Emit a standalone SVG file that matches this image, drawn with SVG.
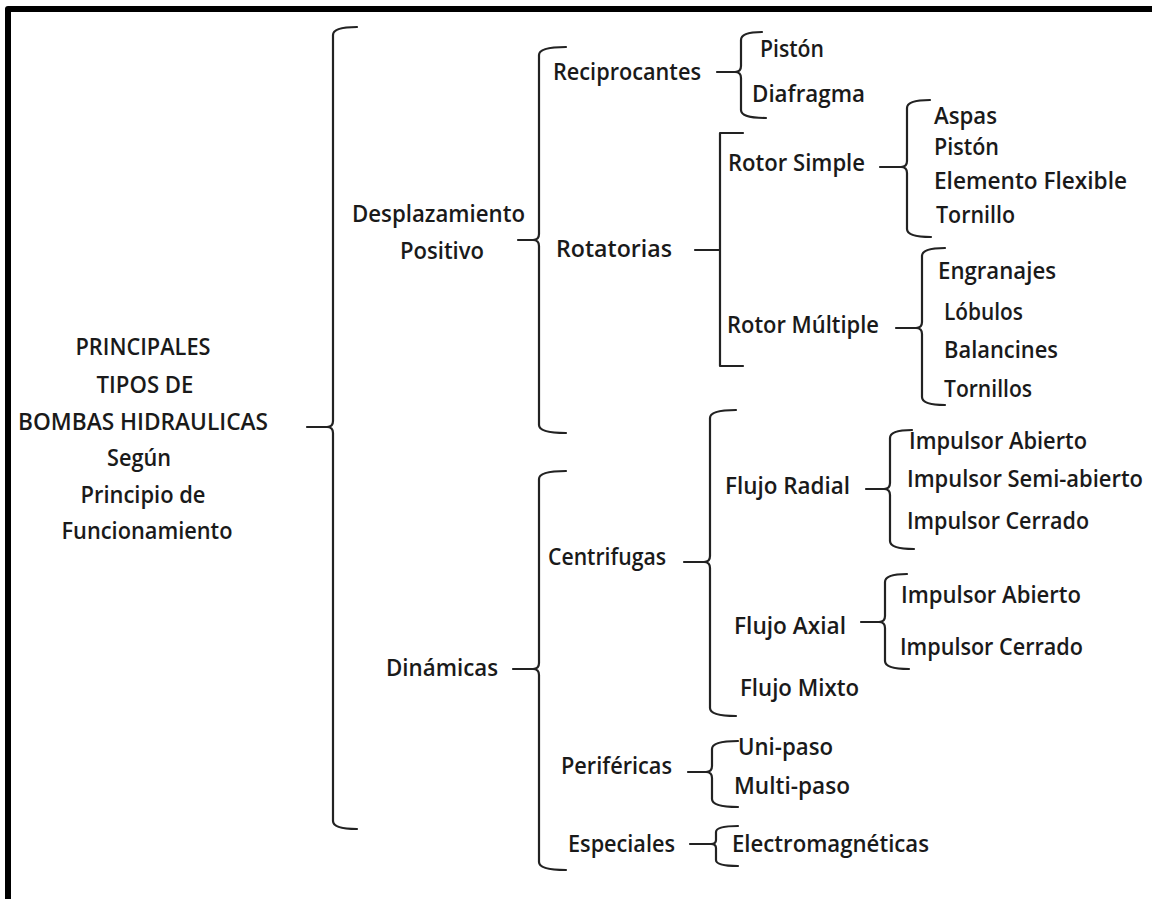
<svg xmlns="http://www.w3.org/2000/svg" width="1152" height="899" viewBox="0 0 1152 899">
<style>
.t{font-family:"Open Sans","Liberation Sans",sans-serif;font-size:24px;font-weight:600;fill:#1a1a1a}
.c{text-anchor:middle}
.b{fill:none;stroke:#222;stroke-width:2.2;stroke-linecap:round;stroke-linejoin:round}
.frame{fill:none;stroke:#000;stroke-width:6;stroke-linejoin:round}
</style>
<rect width="1152" height="899" fill="#fff"/>
<path class="frame" d="M8,899 V9 H1152"/>
<g id="connectors">
<path class="b" d="M357,27 Q333,27 333,35 V421 Q333,427 327,427 H307 M327,427 Q333,427 333,433 V821 Q333,829 357,829"/>
<path class="b" d="M566,47 Q539,47 539,55 V234 Q539,240 533,240 H518 M533,240 Q539,240 539,246 V425 Q539,433 566,433"/>
<path class="b" d="M566,471 Q539,471 539,479 V663 Q539,669 533,669 H513 M533,669 Q539,669 539,675 V862 Q539,870 566,870"/>
<path class="b" d="M762,32 Q741,32 741,40 V66 Q741,72 735,72 H717 M735,72 Q741,72 741,78 V110 Q741,118 766,118"/>
<path class="b" d="M743,133 H720 V366 H743 M695,250 H720"/>
<path class="b" d="M930,100 Q907,100 907,108 V161 Q907,167 901,167 H880 M901,167 Q907,167 907,173 V229 Q907,237 931,237"/>
<path class="b" d="M945,248 Q922,248 922,256 V322 Q922,328 916,328 H896 M916,328 Q922,328 922,334 V397 Q922,405 945,405"/>
<path class="b" d="M736,410 Q710,410 710,418 V556 Q710,562 704,562 H684 M704,562 Q710,562 710,568 V708 Q710,716 736,716"/>
<path class="b" d="M912,430 Q890,430 890,438 V483 Q890,489 884,489 H866 M884,489 Q890,489 890,495 V541 Q890,549 914,549"/>
<path class="b" d="M907,574 Q885,574 885,582 V616 Q885,622 879,622 H861 M879,622 Q885,622 885,628 V661 Q885,669 909,669"/>
<path class="b" d="M738,741 Q712,741 712,749 V766 Q712,772 706,772 H688 M706,772 Q712,772 712,778 V799 Q712,807 738,807"/>
<path class="b" d="M738,826 Q716,826 716,832 V840 Q716,844 711,844 H690 M711,844 Q716,844 716,848 V860 Q716,866 738,866"/>
</g>
<g id="root">
<text class="t c" x="143" y="355" textLength="135" lengthAdjust="spacingAndGlyphs">PRINCIPALES</text>
<text class="t c" x="145" y="393" textLength="97" lengthAdjust="spacingAndGlyphs">TIPOS DE</text>
<text class="t c" x="143" y="430" textLength="250" lengthAdjust="spacingAndGlyphs">BOMBAS HIDRAULICAS</text>
<text class="t c" x="139" y="466" textLength="64" lengthAdjust="spacingAndGlyphs">Según</text>
<text class="t c" x="143" y="503" textLength="125" lengthAdjust="spacingAndGlyphs">Principio de</text>
<text class="t c" x="147" y="539" textLength="171" lengthAdjust="spacingAndGlyphs">Funcionamiento</text>
</g>
<g id="desplazamiento">
<text class="t" x="352" y="222" textLength="173" lengthAdjust="spacingAndGlyphs">Desplazamiento</text>
<text class="t" x="400" y="259" textLength="84" lengthAdjust="spacingAndGlyphs">Positivo</text>
</g>
<g id="dinamicas"><text class="t" x="386" y="676" textLength="112" lengthAdjust="spacingAndGlyphs">Dinámicas</text></g>
<g id="reciprocantes"><text class="t" x="553" y="80" textLength="148" lengthAdjust="spacingAndGlyphs">Reciprocantes</text></g>
<g id="rotatorias"><text class="t" x="556" y="257" textLength="116" lengthAdjust="spacingAndGlyphs">Rotatorias</text></g>
<g id="centrifugas"><text class="t" x="548" y="565" textLength="118" lengthAdjust="spacingAndGlyphs">Centrifugas</text></g>
<g id="perifericas"><text class="t" x="561" y="774" textLength="111" lengthAdjust="spacingAndGlyphs">Periféricas</text></g>
<g id="especiales"><text class="t" x="568" y="852" textLength="107" lengthAdjust="spacingAndGlyphs">Especiales</text></g>
<g id="piston1"><text class="t" x="760" y="57" textLength="64" lengthAdjust="spacingAndGlyphs">Pistón</text></g>
<g id="diafragma"><text class="t" x="752" y="102" textLength="113" lengthAdjust="spacingAndGlyphs">Diafragma</text></g>
<g id="rotor-simple"><text class="t" x="728" y="171" textLength="137" lengthAdjust="spacingAndGlyphs">Rotor Simple</text></g>
<g id="rotor-multiple"><text class="t" x="727" y="333" textLength="152" lengthAdjust="spacingAndGlyphs">Rotor Múltiple</text></g>
<g id="flujo-radial"><text class="t" x="725" y="494" textLength="125" lengthAdjust="spacingAndGlyphs">Flujo Radial</text></g>
<g id="flujo-axial"><text class="t" x="734" y="634" textLength="112" lengthAdjust="spacingAndGlyphs">Flujo Axial</text></g>
<g id="flujo-mixto"><text class="t" x="740" y="696" textLength="119" lengthAdjust="spacingAndGlyphs">Flujo Mixto</text></g>
<g id="uni-paso"><text class="t" x="738" y="755" textLength="95" lengthAdjust="spacingAndGlyphs">Uni-paso</text></g>
<g id="multi-paso"><text class="t" x="734" y="794" textLength="116" lengthAdjust="spacingAndGlyphs">Multi-paso</text></g>
<g id="electromagneticas"><text class="t" x="732" y="852" textLength="197" lengthAdjust="spacingAndGlyphs">Electromagnéticas</text></g>
<g id="aspas"><text class="t" x="934" y="124" textLength="63" lengthAdjust="spacingAndGlyphs">Aspas</text></g>
<g id="piston2"><text class="t" x="934" y="155" textLength="65" lengthAdjust="spacingAndGlyphs">Pistón</text></g>
<g id="elemento-flexible"><text class="t" x="934" y="189" textLength="193" lengthAdjust="spacingAndGlyphs">Elemento Flexible</text></g>
<g id="tornillo"><text class="t" x="936" y="223" textLength="79" lengthAdjust="spacingAndGlyphs">Tornillo</text></g>
<g id="engranajes"><text class="t" x="938" y="279" textLength="118" lengthAdjust="spacingAndGlyphs">Engranajes</text></g>
<g id="lobulos"><text class="t" x="944" y="320" textLength="79" lengthAdjust="spacingAndGlyphs">Lóbulos</text></g>
<g id="balancines"><text class="t" x="944" y="358" textLength="114" lengthAdjust="spacingAndGlyphs">Balancines</text></g>
<g id="tornillos"><text class="t" x="944" y="397" textLength="88" lengthAdjust="spacingAndGlyphs">Tornillos</text></g>
<g id="radial-abierto"><text class="t" x="909" y="449" textLength="178" lengthAdjust="spacingAndGlyphs">Impulsor Abierto</text></g>
<g id="radial-semiabierto"><text class="t" x="907" y="487" textLength="236" lengthAdjust="spacingAndGlyphs">Impulsor Semi-abierto</text></g>
<g id="radial-cerrado"><text class="t" x="907" y="529" textLength="182" lengthAdjust="spacingAndGlyphs">Impulsor Cerrado</text></g>
<g id="axial-abierto"><text class="t" x="901" y="603" textLength="180" lengthAdjust="spacingAndGlyphs">Impulsor Abierto</text></g>
<g id="axial-cerrado"><text class="t" x="900" y="655" textLength="183" lengthAdjust="spacingAndGlyphs">Impulsor Cerrado</text></g>
</svg>
